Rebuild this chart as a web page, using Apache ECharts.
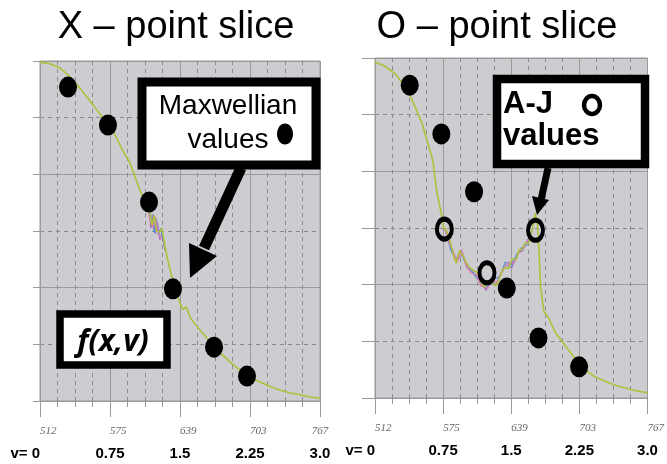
<!DOCTYPE html>
<html>
<head>
<meta charset="utf-8">
<script src="https://cdn.jsdelivr.net/npm/echarts@6/dist/echarts.min.js"></script>
<style>
html,body{margin:0;padding:0;background:#fff;}
#chart{width:667px;height:464px;}
</style>
</head>
<body>
<div id="chart"></div>
<script>
// ---- data ----
const panelTitles = ['X \u2013 point slice', 'O \u2013 point slice'];
const channelTicks = ['512', '575', '639', '703', '767'];
const speedTicks = ['v= 0', '0.75', '1.5', '2.25', '3.0'];

// X-point slice: distribution curve (channel, f)
const xCurve = [
  [512,5.98],[521,5.95],[530,5.88],[539,5.73],[548,5.53],[557,5.31],[566,5.08],[574,4.89],
  [580,4.71],[587,4.43],[594,4.20],[598,3.99],[603,3.72],[607,3.55],[612,3.34],[614,3.10],
  [616,3.28],[618,3.00],[621,2.98],[623,3.05],[626,2.70],[630,2.35],[635,1.99],[639,1.75],
  [642,1.61],[645,1.66],[646,1.62],[649,1.46],[658,1.25],[667,1.04],[676,0.85],[685,0.69],
  [694,0.55],[703,0.42],[712,0.34],[721,0.26],[731,0.19],[740,0.14],[749,0.11],[758,0.07],[767,0.05]
];
const xNoiseA = [[611,3.45],[613,3.05],[615,3.30],[617,2.95],[619,3.15],[621,2.85],[623,2.95],[626,2.65]];
const xNoiseB = [[612,3.35],[614,3.20],[616,2.98],[618,3.22],[620,2.92],[622,3.05],[625,2.75]];
const xNoiseC = [[611,3.30],[613,3.15],[615,3.05],[617,3.25],[620,2.95],[623,2.85]];
const xMaxwellian = [[537.5,5.54],[573.9,4.87],[611.3,3.51],[633.1,1.98],[670.5,0.95],[700.5,0.44]];

// O-point slice
const oCurve = [
  [512,5.93],[521,5.86],[532,5.70],[544,5.38],[556,4.85],[566,4.20],[570,3.62],[574,3.26],
  [576,3.02],[579,2.95],[582,2.79],[585,2.55],[588,2.38],[591,2.60],[594,2.52],[597,2.40],
  [600,2.31],[604,2.25],[608,2.21],[611,2.05],[614,1.96],[618,2.02],[621,2.05],[625,1.98],
  [628,2.08],[631,2.25],[634,2.31],[637,2.28],[640,2.45],[644,2.44],[647,2.62],[649,2.61],
  [652,2.72],[656,2.74],[660,3.05],[662,3.26],[664,3.05],[665,2.79],[667,1.96],[670,1.52],
  [674,1.43],[681,1.15],[693,0.85],[705,0.55],[718,0.37],[736,0.23],[753,0.14],[767,0.09]
];
const oNoiseA = [[578,2.95],[582,2.70],[586,2.50],[590,2.45],[594,2.55],[598,2.30],[603,2.25],[608,2.10],
  [612,2.00],[616,1.90],[620,2.05],[625,2.00],[630,2.20],[635,2.35],[640,2.30],[645,2.55],[650,2.60],[655,2.80],[660,3.00]];
const oNoiseB = [[579,2.90],[583,2.60],[588,2.45],[592,2.60],[596,2.40],[601,2.28],[606,2.15],[611,2.05],
  [615,1.95],[619,2.00],[624,2.10],[629,2.15],[634,2.40],[639,2.35],[644,2.50],[649,2.65],[654,2.70],[659,2.95]];
const oNoiseC = [[577,3.00],[581,2.75],[585,2.60],[589,2.40],[593,2.62],[597,2.35],[602,2.20],[607,2.18],
  [611,1.98],[617,1.93],[622,2.08],[627,2.05],[632,2.28],[637,2.40],[642,2.38],[647,2.58],[652,2.68],[657,2.85]];
const oMaxwellian = [[544.5,5.52],[574.1,4.66],[604.7,3.64],[635.3,1.94],[665.0,1.06],[703.0,0.55]];
const oAJ = [[576.9,2.98],[616.8,2.21],[662.2,2.96]];

// ---- chart ----
const chart = echarts.init(document.getElementById('chart'), null, {renderer: 'canvas'});
const GRID_BG = '#cdcdd1';
const LINE_GRAY = '#9a9a9a';
const CURVE = '#adc23a';

function gridCfg(left, top, width, height) {
  return {left, top, width, height, show: true, backgroundColor: GRID_BG,
          borderColor: LINE_GRAY, borderWidth: 1, containLabel: false};
}
function minorX(g) {
  return {type: 'value', gridIndex: g, min: 0, max: 16, interval: 1, position: 'bottom',
    axisLine: {show: true, lineStyle: {color: LINE_GRAY, width: 1}},
    axisTick: {show: true, length: 6, lineStyle: {color: LINE_GRAY}},
    splitLine: {show: true, lineStyle: {color: '#8a8a8a', type: [4, 4], width: 1}},
    axisLabel: {show: true, margin: 45, color: '#000', fontSize: 15, fontWeight: 'bold',
      fontFamily: 'Liberation Sans', alignMinLabel: 'right',
      formatter: v => (v % 4 === 0 ? speedTicks[v / 4] : '')}
  };
}
function majorX(g, alignMax) {
  return {type: 'value', gridIndex: g, min: 0, max: 16, interval: 4, position: 'bottom',
    axisLine: {show: false},
    axisTick: {show: true, length: 16, lineStyle: {color: LINE_GRAY}},
    splitLine: {show: true, lineStyle: {color: LINE_GRAY, type: 'solid', width: 1}},
    axisLabel: {show: true, margin: 25, color: '#666', fontSize: 11, fontStyle: 'italic',
      fontFamily: 'Liberation Serif', align: 'left', alignMaxLabel: alignMax,
      formatter: v => channelTicks[v / 4]}
  };
}
function dataX(g) {
  return {type: 'value', gridIndex: g, min: 512, max: 767, show: false, splitLine: {show: false}};
}
function minorY(g, tickLen) {
  return {type: 'value', gridIndex: g, min: 0, max: 6, interval: 1,
    axisLine: {show: false},
    axisTick: {show: true, length: tickLen, lineStyle: {color: LINE_GRAY}},
    axisLabel: {show: false},
    splitLine: {show: true, lineStyle: {color: '#8a8a8a', type: [4, 4], width: 1}}};
}
function majorY(g) {
  return {type: 'value', gridIndex: g, min: 0, max: 6, interval: 2,
    axisLine: {show: false}, axisTick: {show: false}, axisLabel: {show: false},
    splitLine: {show: true, lineStyle: {color: LINE_GRAY, type: 'solid', width: 1}}};
}
function curve(data, xi, yi, color, w, z) {
  return {type: 'line', xAxisIndex: xi, yAxisIndex: yi, data, showSymbol: false, symbol: 'none',
    lineStyle: {color, width: w}, z: z || 2, animation: false};
}
function dots(data, xi, yi) {
  return {type: 'scatter', xAxisIndex: xi, yAxisIndex: yi, data, symbol: 'circle', symbolSize: [18, 21],
    itemStyle: {color: '#000', opacity: 1}, z: 5, animation: false};
}

const option = {
  animation: false,
  title: [
    {text: panelTitles[0], left: 176, top: 9, padding: 0, textAlign: 'center',
     textStyle: {fontFamily: 'Liberation Sans', fontSize: 38, fontWeight: 'normal', color: '#000'}},
    {text: panelTitles[1], left: 497, top: 9, padding: 0, textAlign: 'center',
     textStyle: {fontFamily: 'Liberation Sans', fontSize: 38, fontWeight: 'normal', color: '#000'}}
  ],
  grid: [gridCfg(40, 61, 280, 340), gridCfg(375, 58, 275, 340)],
  xAxis: [minorX(0), majorX(0, 'center'), dataX(0), minorX(1), majorX(1, 'left'), dataX(1)],
  yAxis: [minorY(0, 7), majorY(0), minorY(1, 13), majorY(1)],
  series: [
    curve(xCurve, 2, 0, CURVE, 1.6, 3),
    curve(xNoiseA, 2, 0, '#9a6cc8', 1.2),
    curve(xNoiseB, 2, 0, '#4f92d6', 1.2),
    curve(xNoiseC, 2, 0, '#e07ab8', 1.2),
    dots(xMaxwellian, 2, 0),
    curve(oCurve, 5, 2, CURVE, 1.6, 3),
    curve(oNoiseA, 5, 2, '#9a6cc8', 1.2),
    curve(oNoiseB, 5, 2, '#4f92d6', 1.2),
    curve(oNoiseC, 5, 2, '#e07ab8', 1.2),
    dots(oMaxwellian, 5, 2),
    {type: 'scatter', xAxisIndex: 5, yAxisIndex: 2, data: oAJ, symbol: 'circle', symbolSize: [15, 20],
     itemStyle: {color: 'rgba(0,0,0,0)', borderColor: '#000', borderWidth: 4.5, opacity: 1}, z: 6, animation: false}
  ],
  graphic: [
    // Maxwellian callout (left)
    {type: 'line', shape: {x1: 241, y1: 168, x2: 204, y2: 248}, style: {stroke: '#000', lineWidth: 11}, z: 100},
    {type: 'polygon', shape: {points: [[190, 278], [189, 243], [217, 256]]}, style: {fill: '#000'}, z: 100},
    {type: 'rect', shape: {x: 142, y: 82, width: 174, height: 83}, style: {fill: '#fff', stroke: '#000', lineWidth: 9}, z: 101},
    {type: 'text', x: 228, y: 106, style: {text: 'Maxwellian', font: '28px "Liberation Sans"', fill: '#000', align: 'center', verticalAlign: 'middle'}, z: 102},
    {type: 'text', x: 228, y: 140, style: {text: 'values', font: '28px "Liberation Sans"', fill: '#000', align: 'center', verticalAlign: 'middle'}, z: 102},
    {type: 'ellipse', shape: {cx: 285, cy: 134, rx: 8, ry: 10.5}, style: {fill: '#000'}, z: 102},
    // f(x,v) label
    {type: 'rect', shape: {x: 60, y: 314, width: 107, height: 51}, style: {fill: '#fff', stroke: '#000', lineWidth: 7.5}, z: 101},
    {type: 'text', x: 113, y: 342, style: {text: 'f(x,v)', font: 'italic bold 30px "Open Sans"', fill: '#000', align: 'center', verticalAlign: 'middle'}, z: 102},
    // A-J callout (right)
    {type: 'line', shape: {x1: 548, y1: 168, x2: 541, y2: 200}, style: {stroke: '#000', lineWidth: 7}, z: 100},
    {type: 'polygon', shape: {points: [[537, 215], [532, 196], [549, 200]]}, style: {fill: '#000'}, z: 100},
    {type: 'rect', shape: {x: 497, y: 79, width: 148, height: 85}, style: {fill: '#fff', stroke: '#000', lineWidth: 8.5}, z: 101},
    {type: 'text', x: 503, y: 104, style: {text: 'A-J', font: 'bold 31px "Liberation Sans"', fill: '#000', align: 'left', verticalAlign: 'middle'}, z: 102},
    {type: 'ellipse', shape: {cx: 592, cy: 105, rx: 8, ry: 9}, style: {fill: 'none', stroke: '#000', lineWidth: 4.5}, z: 102},
    {type: 'text', x: 503, y: 136, style: {text: 'values', font: 'bold 31px "Liberation Sans"', fill: '#000', align: 'left', verticalAlign: 'middle'}, z: 102}
  ]
};
chart.setOption(option);
</script>
</body>
</html>
